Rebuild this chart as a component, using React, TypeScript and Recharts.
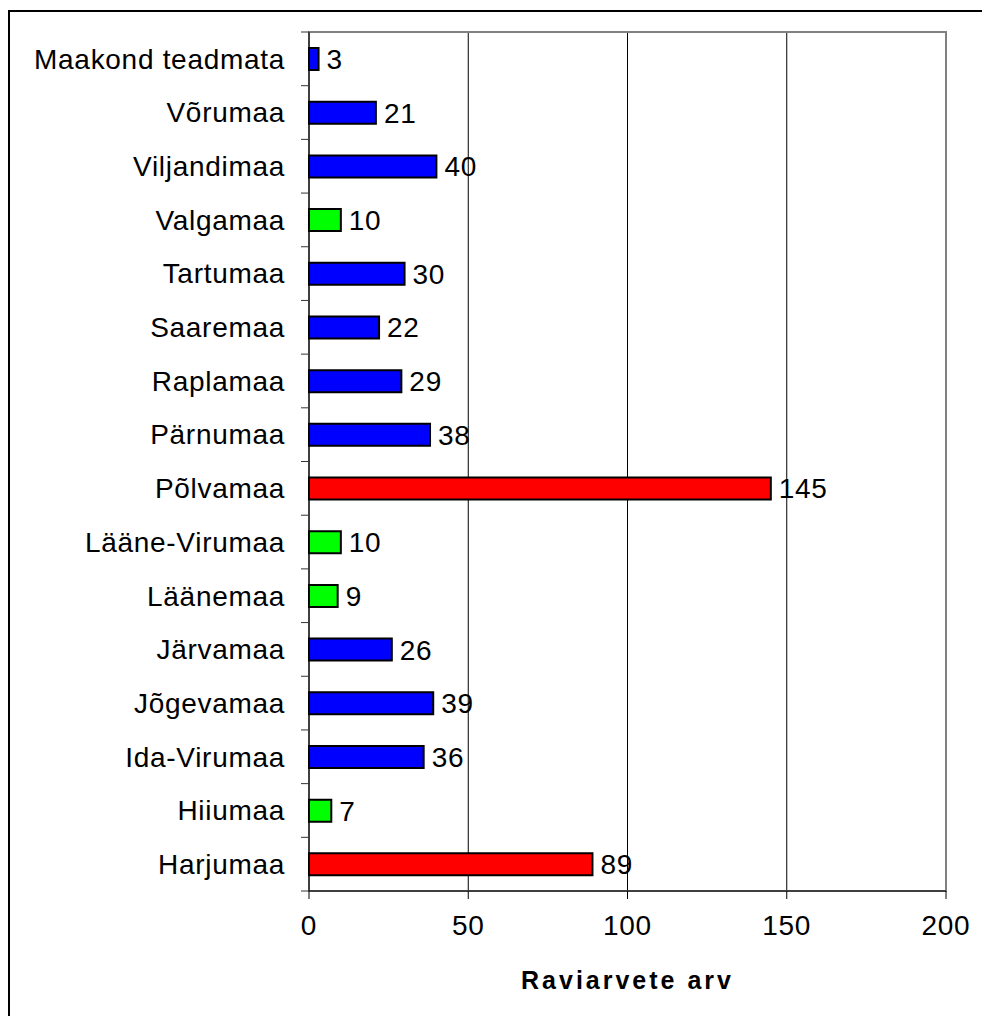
import React from "react";
import { BarChart, Bar, XAxis, YAxis, CartesianGrid, Cell, LabelList, ReferenceArea } from "recharts";

// top to bottom, as in the picture
const counties = [
  "Maakond teadmata",
  "Võrumaa",
  "Viljandimaa",
  "Valgamaa",
  "Tartumaa",
  "Saaremaa",
  "Raplamaa",
  "Pärnumaa",
  "Põlvamaa",
  "Lääne-Virumaa",
  "Läänemaa",
  "Järvamaa",
  "Jõgevamaa",
  "Ida-Virumaa",
  "Hiiumaa",
  "Harjumaa",
];
const invoices = [3, 21, 40, 10, 30, 22, 29, 38, 145, 10, 9, 26, 39, 36, 7, 89];
const levels = ["b", "b", "b", "g", "b", "b", "b", "b", "r", "g", "g", "b", "b", "b", "g", "r"];
const xTicks = [0, 50, 100, 150, 200];

const levelColors: Record<string, string> = { b: "#0000FF", g: "#00FF00", r: "#FF0000" };

const W = 982;
const H = 1016;
const margin = { top: 32, right: 36, bottom: 0, left: 0 };
const xAxisHeight = 125;
const yAxisWidth = 309;
const plotHeight = H - margin.top - margin.bottom - xAxisHeight;
const halfBand = plotHeight / counties.length / 2;

const font = "'Liberation Sans', Arial, sans-serif";

const data = counties.map((name, i) => ({ name, value: invoices[i], level: levels[i] }));

function CountyTick(props: any) {
  const { x, y, payload, index } = props;
  const axisX = x + 8 + 16;
  return (
    <g>
      <line x1={axisX - 8} x2={axisX} y1={y - halfBand} y2={y - halfBand} stroke="#333" />
      {index === counties.length - 1 && (
        <line x1={axisX - 8} x2={axisX} y1={y + halfBand} y2={y + halfBand} stroke="#333" />
      )}
      <text x={x} y={y} dy="0.35em" textAnchor="end" fontSize={28} fill="#000" fontFamily={font} letterSpacing={0.7}>
        {payload.value}
      </text>
    </g>
  );
}

export default function App() {
  return (
    <div style={{ position: "absolute", left: 0, top: 0, width: W, height: H, background: "#fff", overflow: "hidden" }}>
      <div
        style={{
          position: "absolute",
          left: 8,
          top: 10,
          width: W,
          height: H,
          border: "2px solid #000",
        }}
      />
      <div style={{ position: "absolute", left: 0, top: 0 }}>
        <BarChart width={W} height={H} data={data} layout="vertical" margin={margin} barSize={22}>
          <CartesianGrid horizontal={false} stroke="#000" />
          <ReferenceArea
            x1={0}
            x2={200}
            y1={counties[0]}
            y2={counties[counties.length - 1]}
            fill="none"
            stroke="#808080"
            strokeWidth={2}
            ifOverflow="visible"
          />
          <XAxis
            type="number"
            domain={[0, 200]}
            ticks={xTicks}
            height={xAxisHeight}
            tickSize={8}
            tickMargin={16}
            stroke="#000"
            tick={{ fontSize: 28, fill: "#000", fontFamily: font, letterSpacing: 0.7 }}
            label={{
              value: "Raviarvete arv",
              position: "insideBottom",
              offset: 27,
              style: { fontSize: 25, fontWeight: "bold", letterSpacing: 3, fill: "#000", fontFamily: font },
            }}
          />
          <YAxis
            type="category"
            dataKey="name"
            width={yAxisWidth}
            tickLine={false}
            tickSize={8}
            tickMargin={16}
            stroke="#000"
            tick={<CountyTick />}
            interval={0}
          />
          <Bar dataKey="value" stroke="#000" strokeWidth={2} isAnimationActive={false}>
            {data.map((d) => (
              <Cell key={d.name} fill={levelColors[d.level]} />
            ))}
            <LabelList
              dataKey="value"
              position="right"
              offset={8}
              fill="#000"
              fontSize={28}
              fontFamily={font}
              letterSpacing={0.7}
            />
          </Bar>
        </BarChart>
      </div>
    </div>
  );
}
